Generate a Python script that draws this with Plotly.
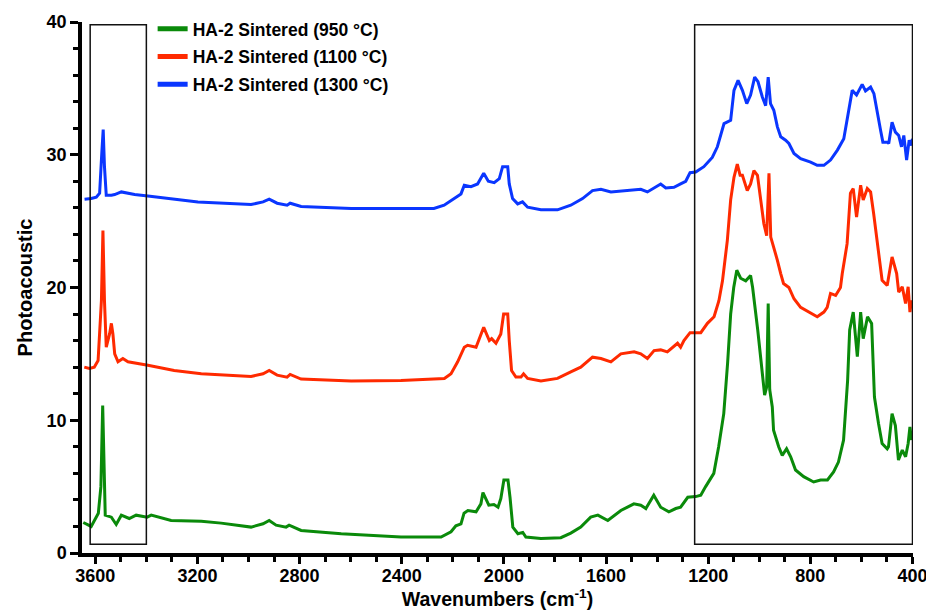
import plotly.graph_objects as go

# Photoacoustic FTIR spectra of HA-2 sintered at three temperatures
# (offset vertically for clarity)

wn_950 = [3647, 3616, 3588, 3578, 3571, 3565, 3561, 3537, 3518, 3498, 3467, 3440, 3397, 3381,
          3303, 3185, 3107, 2990, 2943, 2919, 2892, 2853, 2841, 2794, 2637, 2403, 2246, 2207,
          2188, 2168, 2156, 2141, 2109, 2090, 2082, 2059, 2039, 2023, 2012, 2000, 1984, 1976,
          1965, 1945, 1926, 1914, 1855, 1777, 1738, 1699, 1660, 1632, 1593, 1542, 1491, 1464,
          1444, 1413, 1386, 1354, 1327, 1308, 1280, 1249, 1229, 1210, 1178, 1159, 1139, 1124,
          1112, 1100, 1088, 1073, 1053, 1034, 1026, 1006, 987, 979, 971, 965, 959, 949, 944,
          924, 910, 893, 877, 858, 826, 787, 760, 733, 709, 690, 670, 654, 646, 632, 616, 603,
          593, 576, 560, 549, 533, 519, 499, 494, 480, 467, 455, 440, 427, 417, 410, 404]
pa_950 = [2.3, 2.0, 3.0, 5.0, 11.1, 5.0, 2.85, 2.7, 2.15, 2.85, 2.6, 2.85, 2.7, 2.85,
          2.45, 2.4, 2.25, 1.95, 2.2, 2.45, 2.1, 1.95, 2.1, 1.7, 1.45, 1.2, 1.2, 1.6,
          2.05, 2.2, 3.0, 3.2, 3.1, 3.7, 4.55, 3.6, 3.65, 3.45, 4.1, 5.5, 5.5, 4.2,
          1.95, 1.45, 1.55, 1.2, 1.1, 1.15, 1.5, 1.95, 2.7, 2.85, 2.45, 3.2, 3.7, 3.6,
          3.35, 4.35, 3.45, 3.1, 3.35, 3.45, 4.2, 4.25, 4.35, 5.0, 6.0, 8.0, 10.5, 14.3,
          18.0, 20.0, 21.3, 20.7, 20.5, 20.9, 20.0, 16.8, 13.5, 11.9, 12.5, 18.8, 12.3, 11.0, 9.25,
          8.0, 7.35, 7.85, 7.25, 6.25, 5.75, 5.35, 5.5, 5.5, 6.1, 6.85, 8.5, 13.0, 16.8, 18.15, 14.8, 18.15,
          16.15, 17.8, 17.3, 11.75, 9.75, 8.25, 7.85, 8.0, 10.5, 9.6, 7.0, 7.75, 7.25, 8.25, 9.5, 8.5]

wn_1100 = [3643, 3623, 3604, 3589, 3576, 3570, 3564, 3557, 3544, 3537, 3531, 3524, 3511, 3492,
           3472, 3394, 3291, 3185, 2990, 2943, 2919, 2888, 2849, 2837, 2794, 2598, 2403, 2233,
           2207, 2181, 2155, 2142, 2109, 2079, 2057, 2048, 2031, 2012, 2001, 1985, 1979, 1970,
           1953, 1933, 1923, 1907, 1855, 1790, 1738, 1699, 1653, 1620, 1581, 1542, 1490, 1464,
           1438, 1412, 1386, 1360, 1320, 1308, 1295, 1271, 1229, 1203, 1177, 1158, 1144, 1138,
           1125, 1112, 1099, 1086, 1075, 1066, 1047, 1034, 1021, 1007, 995, 982, 971, 962, 955,
           943, 929, 916, 905, 884, 864, 838, 806, 773, 747, 734, 721, 701, 682, 675, 656, 643,
           632, 619, 603, 593, 577, 564, 552, 538, 525, 519, 499, 480, 462, 454, 440, 427, 417,
           410, 404]
pa_1100 = [14.0, 13.9, 14.0, 14.5, 19.0, 24.3, 19.0, 15.5, 16.5, 17.3, 16.5, 15.0, 14.4, 14.65,
           14.4, 14.15, 13.75, 13.5, 13.3, 13.5, 13.75, 13.4, 13.25, 13.45, 13.1, 12.95, 13.0, 13.15,
           13.5, 14.4, 15.5, 15.65, 15.5, 17.0, 16.0, 16.15, 15.8, 16.5, 18.0, 18.0, 16.0, 13.75,
           13.25, 13.25, 13.5, 13.15, 12.95, 13.15, 13.65, 14.0, 14.75, 14.65, 14.4, 15.0, 15.15, 15.0,
           14.65, 15.25, 15.3, 15.15, 15.8, 15.5, 16.0, 16.6, 16.6, 17.3, 17.8, 19.0, 20.5, 21.55,
           23.55, 26.6, 28.3, 29.3, 28.45, 28.45, 27.3, 27.8, 28.8, 28.45, 26.6, 24.8, 23.9, 28.6, 23.8,
           23.05, 22.05, 21.05, 20.3, 20.0, 19.15, 18.5, 18.15, 17.8, 18.15, 18.5, 19.55, 19.4, 20.0, 21.05, 23.3, 27.1,
           27.45, 25.3, 27.7, 26.6, 27.45, 27.2, 25.55, 23.3, 21.3, 20.55, 20.15, 22.3, 21.05, 19.65, 20.05, 18.8, 20.05,
           18.15, 19.05]

wn_1300 = [3642, 3616, 3596, 3583, 3574, 3569, 3564, 3557, 3537, 3524, 3498, 3446, 3394, 3290,
           3198, 2990, 2943, 2919, 2888, 2849, 2837, 2794, 2598, 2403, 2274, 2234, 2194, 2168,
           2155, 2129, 2103, 2079, 2061, 2038, 2018, 2005, 1985, 1979, 1966, 1946, 1927, 1907,
           1855, 1790, 1738, 1692, 1653, 1620, 1581, 1516, 1464, 1438, 1386, 1366, 1334, 1308,
           1288, 1271, 1249, 1217, 1184, 1164, 1138, 1112, 1099, 1083, 1066, 1049, 1034, 1018,
           1005, 988, 975, 965, 956, 943, 929, 916, 897, 884, 864, 838, 799, 773, 747, 721, 694,
           669, 649, 636, 619, 597, 584, 564, 551, 538, 525, 516, 499, 493, 480, 467, 454, 443,
           434, 423, 413, 406, 400]
pa_1300 = [26.65, 26.7, 26.8, 27.1, 30.3, 31.9, 29.1, 26.95, 26.95, 27.0, 27.2, 27.0, 26.9, 26.65,
           26.45, 26.25, 26.45, 26.65, 26.35, 26.2, 26.35, 26.1, 25.95, 25.95, 25.95, 26.2, 26.7, 27.05,
           27.7, 27.6, 27.8, 28.6, 28.0, 27.9, 28.2, 29.1, 29.1, 27.8, 26.7, 26.3, 26.45, 26.05,
           25.85, 25.85, 26.2, 26.7, 27.3, 27.4, 27.2, 27.3, 27.4, 27.2, 27.8, 27.5, 27.55, 27.8,
           28.0, 28.65, 28.7, 29.1, 29.8, 30.6, 32.35, 32.6, 34.85, 35.6, 34.85, 33.85, 34.5, 35.85,
           35.5, 34.35, 33.7, 35.85, 33.85, 33.35, 32.1, 31.35, 31.1, 30.85, 30.1, 29.7, 29.45, 29.2, 29.2, 29.6, 30.35,
           31.2, 33.35, 34.85, 34.5, 35.3, 34.8, 35.1, 34.6, 33.1, 31.85, 30.95, 30.95, 30.85, 32.45, 31.7, 31.45, 30.6,
           31.45, 29.6, 31.1, 30.7, 31.2]

series = [
    ("HA-2 Sintered (950 °C)", wn_950, pa_950, "#0a8a0a"),
    ("HA-2 Sintered (1100 °C)", wn_1100, pa_1100, "#ff2a00"),
    ("HA-2 Sintered (1300 °C)", wn_1300, pa_1300, "#0a36ff"),
]

# highlighted spectral regions (OH stretch and phosphate bands)
regions = [(3620, 3400), (1253, 400)]
region_y = (0.65, 39.8)

FONT = "Arial, Liberation Sans, Helvetica, sans-serif"

fig = go.Figure()
for name, wn, pa, color in series:
    fig.add_trace(go.Scatter(x=wn, y=pa, mode="lines", name=name, legendgroup=name,
                             line=dict(color=color, width=3)))

for x0, x1 in regions:
    fig.add_shape(type="rect", xref="x", yref="y", x0=x0, x1=x1,
                  y0=region_y[0], y1=region_y[1],
                  line=dict(color="#111111", width=1.5), fillcolor="rgba(0,0,0,0)")

fig.update_layout(
    width=926, height=610,
    margin=dict(l=82, r=13, t=22, b=57, autoexpand=False),
    paper_bgcolor="white", plot_bgcolor="white",
    font=dict(family=FONT, color="black"),
    showlegend=True,
    legend=dict(x=0.085, y=1.021, xanchor="left", yanchor="top",
                bgcolor="rgba(0,0,0,0)", itemwidth=30,
                font=dict(family=FONT, size=17.5, color="black", weight="bold"),
                tracegroupgap=2, itemsizing="constant"),
    xaxis=dict(
        range=[3652, 398], autorange=False, automargin=False,
        tick0=400, dtick=400, ticks="outside", ticklen=7, tickwidth=3, tickcolor="black",
        ticklabeloverflow="allow", ticklabelstandoff=-3,
        minor=dict(dtick=100, tick0=400, ticks="outside", ticklen=5, tickwidth=3, tickcolor="black"),
        showline=True, linewidth=3.5, linecolor="black", mirror=False,
        showgrid=False, zeroline=False,
        tickfont=dict(family=FONT, size=18, color="black", weight="bold"),
        title=dict(text="Wavenumbers (cm<sup>-1</sup>)", standoff=6,
                   font=dict(family=FONT, size=19.5, color="black", weight="bold")),
    ),
    yaxis=dict(
        range=[0, 40], autorange=False, automargin=False,
        tick0=0, dtick=10, ticks="outside", ticklen=8, tickwidth=3, tickcolor="black",
        minor=dict(dtick=2, ticks="outside", ticklen=5, tickwidth=3, tickcolor="black"),
        showline=True, linewidth=3.5, linecolor="black", mirror=False,
        showgrid=False, zeroline=False,
        tickfont=dict(family=FONT, size=18, color="black", weight="bold"),
        title=dict(text="Photoacoustic", standoff=10,
                   font=dict(family=FONT, size=20, color="black", weight="bold")),
    ),
)

fig.write_html("out.html")
